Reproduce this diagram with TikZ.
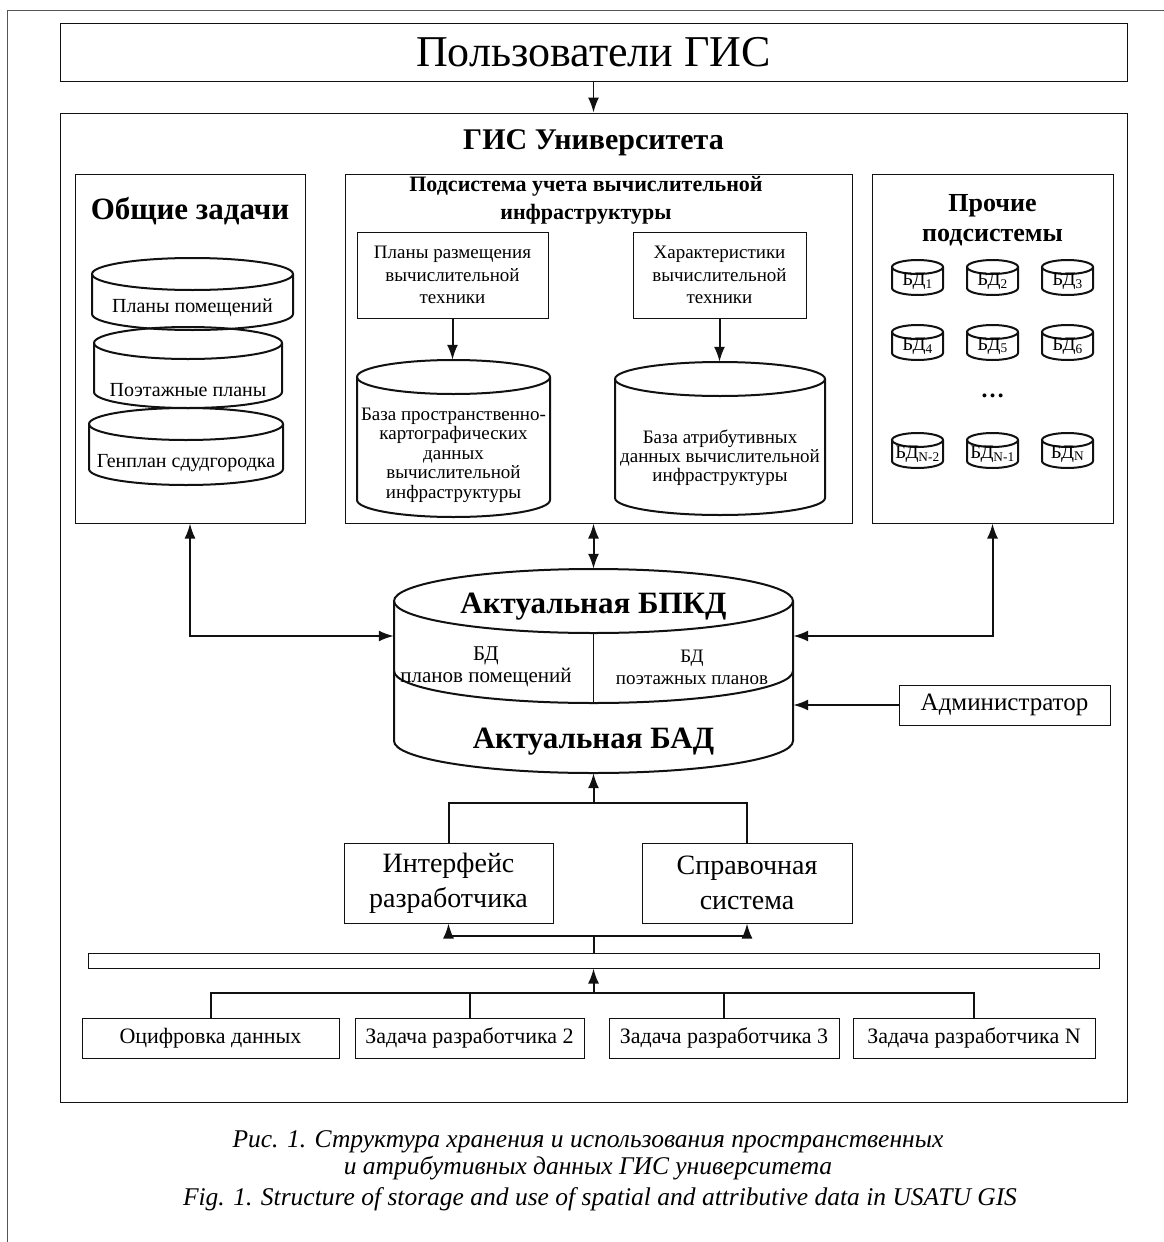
\documentclass[tikz,border=0pt]{standalone}
\usepackage{fontspec}
\setmainfont{Liberation Serif}
\usepackage{tikz}
\usetikzlibrary{arrows.meta, positioning, calc}
\definecolor{inkdark}{HTML}{111111}
\definecolor{framegray}{HTML}{555555}

\tikzset{
  box/.style={draw=inkdark, line width=1pt, inner sep=0pt, align=center},
  ghost/.style={inner sep=0pt},
  drumline/.style={draw=inkdark, line width=2pt},
  link/.style={draw=inkdark, line width=2pt},
  arr/.style={link, -{Latex[length=15pt,width=11pt]}},
  arrboth/.style={link, {Latex[length=15pt,width=11pt]}-{Latex[length=15pt,width=11pt]}},
}

% drum outline plus an empty node of its size: name, cx, top, w, h, ry
\newcommand{\dbdrum}[6]{%
  \draw[drumline] ({#2-#4/2},{#3+#6}) -- ({#2-#4/2},{#3+#5-#6})
    arc[start angle=180, end angle=0, x radius={#4/2}, y radius=#6]
    -- ({#2+#4/2},{#3+#6});
  \draw[drumline] (#2,{#3+#6}) ellipse[x radius={#4/2}, y radius=#6];
  \node[ghost, minimum width=#4pt, minimum height=#5pt] (#1) at (#2,{#3+#5/2}) {};
}

\begin{document}
\begin{tikzpicture}[x=1pt, y=-1pt]
  \useasboundingbox (0,0) rectangle (1164,1242);
  \fill[white] (0,0) rectangle (1164,1242);

  % Page frame
  \draw[framegray, line width=1.5pt] (7.5,1242) -- (7.5,10.5) -- (1164,10.5);

  % Users
  \node[box, minimum width=1067pt, minimum height=58pt, font=\fontsize{44}{44}\selectfont] (users) at (593.5,52) {Пользователи ГИС};

  % University GIS frame
  \node[box, minimum width=1067pt, minimum height=989pt] (gis) at (593.5,607.5) {};
  \node[font=\fontsize{30}{30}\selectfont\bfseries] (gisT) at (593.5,143) {ГИС Университета};
  \draw[arr, line width=1.5pt] (users.south) -- (gis.north);

  % Common tasks
  \node[box, minimum width=230pt, minimum height=349pt] (common) at (190,348.5) {};
  \node[font=\fontsize{31}{31}\selectfont\bfseries] (commonT) at (190,211) {Общие задачи};
  \dbdrum{rooms}{192.5}{258}{201}{72}{16}
  \dbdrum{floors}{188}{327}{188}{81}{16}
  \dbdrum{campus}{186}{408}{194}{77}{16}
  \node[font=\fontsize{20}{20}\selectfont] (roomsT) at (192.5,308) {Планы помещений};
  \node[font=\fontsize{20}{20}\selectfont] (floorsT) at (188,390) {Поэтажные планы};
  \node[font=\fontsize{20}{20}\selectfont] (campusT) at (186,463) {Генплан сдудгородка};

  % Computing infrastructure subsystem
  \node[box, minimum width=507pt, minimum height=349pt] (infra) at (598.5,348.5) {};
  \node[font=\fontsize{22}{28}\selectfont\bfseries, align=center] (infraT) at (586,200) {Подсистема учета вычислительной\\инфраструктуры};
  \node[box, minimum width=191pt, minimum height=86pt, font=\fontsize{19}{22.5}\selectfont] (place) at (452.5,275) {Планы размещения\\вычислительной\\техники};
  \node[box, minimum width=173pt, minimum height=86pt, font=\fontsize{19}{22.5}\selectfont] (specs) at (719.5,275) {Характеристики\\вычислительной\\техники};
  \dbdrum{spatial}{453.5}{360}{193}{157}{17}
  \dbdrum{attrib}{720}{362}{210}{153}{17}
  \node[font=\fontsize{19}{19.5}\selectfont, align=center] (spatialT) at (453.5,455) {База пространственно-\\картографических\\данных\\вычислительной\\инфраструктуры};
  \node[font=\fontsize{19}{19}\selectfont, align=center] (attribT) at (720,458) {База атрибутивных\\данных вычислительной\\инфраструктуры};
  \draw[arr] (place.south) -- (place.south |- spatial.north);
  \draw[arr] (specs.south) -- (specs.south |- attrib.north);

  % Other subsystems
  \node[box, minimum width=241pt, minimum height=349pt] (other) at (992.5,348.5) {};
  \node[font=\fontsize{26}{30}\selectfont\bfseries, align=center] (otherT) at (992.5,220) {Прочие\\подсистемы};
  \dbdrum{db1}{917.5}{260}{51}{35}{7}
  \dbdrum{db2}{992.5}{260}{51}{35}{7}
  \dbdrum{db3}{1067.5}{260}{51}{35}{7}
  \dbdrum{db4}{917.5}{325}{51}{35}{7}
  \dbdrum{db5}{992.5}{325}{51}{35}{7}
  \dbdrum{db6}{1067.5}{325}{51}{35}{7}
  \dbdrum{db7}{917.5}{433}{51}{35}{7}
  \dbdrum{db8}{992.5}{433}{51}{35}{7}
  \dbdrum{db9}{1067.5}{433}{51}{35}{7}
  \node[font=\fontsize{19}{19}\selectfont] (db1T) at (917.5,281) {БД\textsubscript{1}};
  \node[font=\fontsize{19}{19}\selectfont] (db2T) at (992.5,281) {БД\textsubscript{2}};
  \node[font=\fontsize{19}{19}\selectfont] (db3T) at (1067.5,281) {БД\textsubscript{3}};
  \node[font=\fontsize{19}{19}\selectfont] (db4T) at (917.5,346) {БД\textsubscript{4}};
  \node[font=\fontsize{19}{19}\selectfont] (db5T) at (992.5,346) {БД\textsubscript{5}};
  \node[font=\fontsize{19}{19}\selectfont] (db6T) at (1067.5,346) {БД\textsubscript{6}};
  \node[font=\fontsize{19}{19}\selectfont] (db7T) at (917.5,454) {БД\textsubscript{N-2}};
  \node[font=\fontsize{19}{19}\selectfont] (db8T) at (992.5,454) {БД\textsubscript{N-1}};
  \node[font=\fontsize{19}{19}\selectfont] (db9T) at (1067.5,454) {БД\textsubscript{N}};
  \node[font=\fontsize{24}{24}\selectfont\bfseries] (dots) at (992.5,396) {…};

  % Actual databases drum
  \draw[drumline] (394,601) -- (394,741) arc[start angle=180, end angle=0, x radius=199.5, y radius=32] -- (793,601);
  \draw[drumline] (593.5,601) ellipse[x radius=199.5, y radius=32];
  \draw[drumline] (394,671) arc[start angle=180, end angle=0, x radius=199.5, y radius=32];
  \draw[inkdark, line width=1.5pt] (593.5,633) -- (593.5,703);
  \node[ghost, minimum width=399pt, minimum height=134pt] (bpkd) at (593.5,636) {};
  \node[ghost, minimum width=399pt, minimum height=70pt] (bad) at (593.5,738) {};
  \node[font=\fontsize{31}{31}\selectfont\bfseries] (bpkdT) at (593.5,607) {Актуальная БПКД};
  \node[font=\fontsize{21}{22}\selectfont, align=center] (roomsDB) at (486,667) {БД\\планов помещений};
  \node[font=\fontsize{19}{22}\selectfont, align=center] (floorsDB) at (692,667) {БД\\поэтажных планов};
  \node[font=\fontsize{31}{31}\selectfont\bfseries] (badT) at (593.5,742) {Актуальная БАД};

  % Links to the subsystems
  \draw[arrboth] (common.south) |- (bpkd.west);
  \draw[arrboth] (other.south) |- (bpkd.east);
  \draw[arrboth] (infra.south -| bpkd.north) -- (bpkd.north);

  % Administrator
  \node[box, minimum width=211pt, minimum height=40pt, font=\fontsize{25}{25}\selectfont] (admin) at (1004.5,705) {Администратор};
  \draw[arr] (admin.west) -- (admin.west -| bad.east);

  % Developer tools
  \node[box, minimum width=209pt, minimum height=80pt, font=\fontsize{28}{35}\selectfont] (iface) at (448.5,883) {Интерфейс\\разработчика};
  \node[box, minimum width=210pt, minimum height=80pt, font=\fontsize{28}{35}\selectfont] (help) at (747,883) {Справочная\\система};
  \coordinate (upjoin) at (593.5,803);
  \draw[link] (iface.north) |- (upjoin) -| (help.north);
  \draw[arr] (upjoin) -- (bad.south);

  % Bus bar
  \node[box, minimum width=1011pt, minimum height=15pt] (bus) at (593.5,960.5) {};
  \coordinate (downjoin) at (593.5,936);
  \draw[link] (bus.north) -- (downjoin);
  \draw[arr] (downjoin) -| (iface.south);
  \draw[arr] (downjoin) -| (help.south);

  % Developer tasks
  \node[box, minimum width=257pt, minimum height=40pt, font=\fontsize{22}{22}\selectfont] (digit) at (210.5,1038) {Оцифровка данных};
  \node[box, minimum width=229pt, minimum height=40pt, font=\fontsize{22}{22}\selectfont] (task2) at (469.5,1038) {Задача разработчика 2};
  \node[box, minimum width=230pt, minimum height=40pt, font=\fontsize{22}{22}\selectfont] (task3) at (724,1038) {Задача разработчика 3};
  \node[box, minimum width=242pt, minimum height=40pt, font=\fontsize{22}{22}\selectfont] (taskN) at (974,1038) {Задача разработчика N};
  \coordinate (taskjoin) at (593.5,993);
  \draw[link] (digit.north) |- (taskjoin) -| (taskN.north);
  \draw[link] (task2.north) |- (taskjoin);
  \draw[link] (task3.north) |- (taskjoin);
  \draw[arr] (taskjoin) -- (bus.south);

  % Caption
  \node[font=\fontsize{25.5}{27}\selectfont\itshape, align=center] (capRu) at (588,1155) {Рис. 1. Структура хранения и использования пространственных\\и атрибутивных данных ГИС университета};
  \node[font=\fontsize{25.5}{26}\selectfont\itshape] (capEn) at (600,1199) {Fig. 1. Structure of storage and use of spatial and attributive data in USATU GIS};
\end{tikzpicture}
\end{document}
